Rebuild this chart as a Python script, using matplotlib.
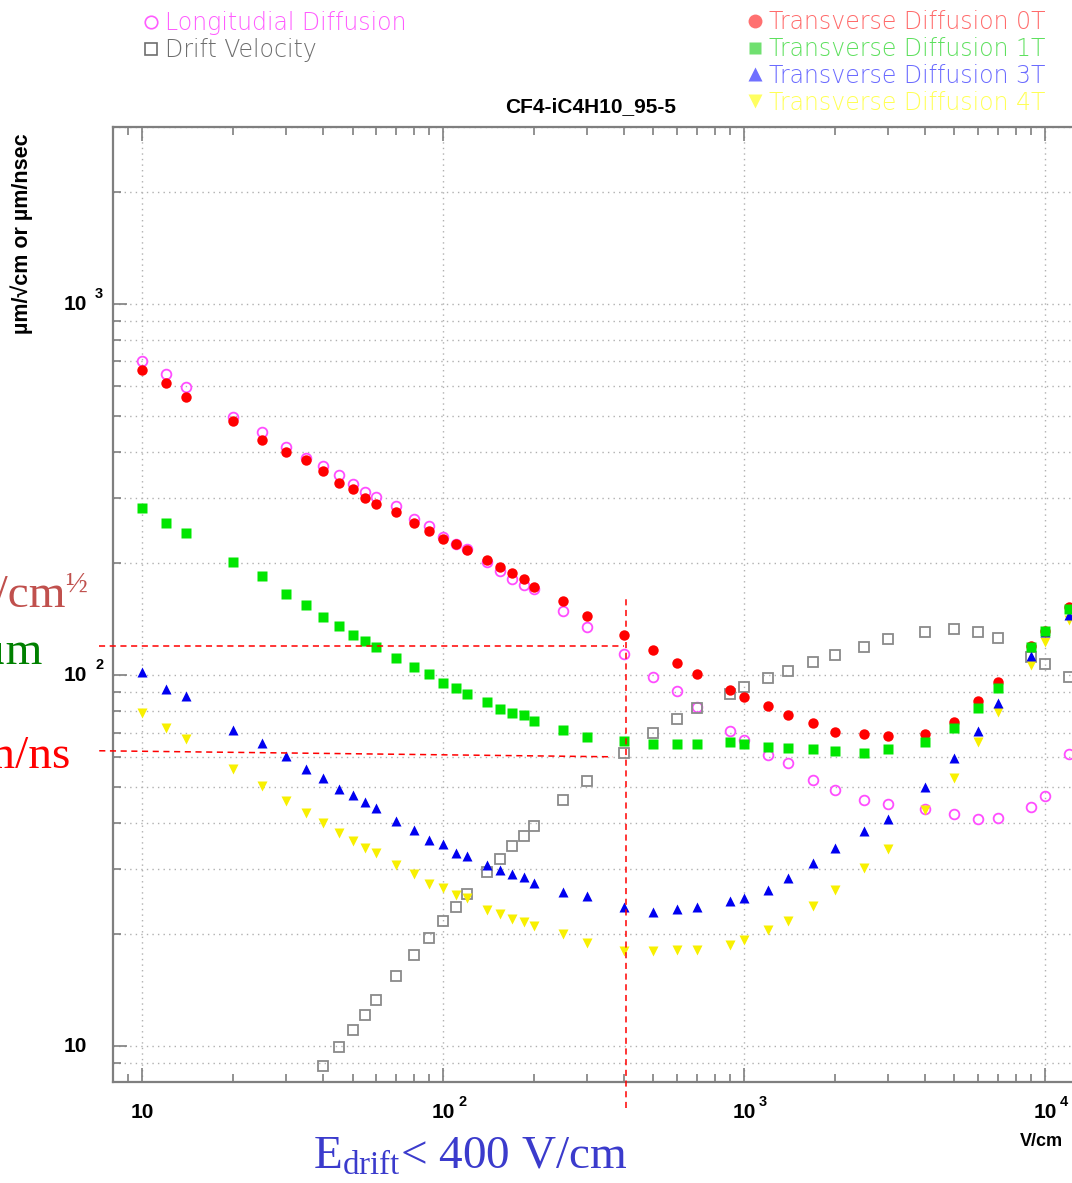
import matplotlib
matplotlib.use("Agg")
import matplotlib.pyplot as plt
from matplotlib.lines import Line2D
from matplotlib.ticker import FixedLocator, LogLocator, NullFormatter
import matplotlib.transforms as mtransforms

plt.rcParams['mathtext.fontset'] = 'custom'
plt.rcParams['mathtext.rm'] = 'Liberation Serif'
plt.rcParams['mathtext.it'] = 'Liberation Serif:italic'

# drift field (V/cm)
efield = [10, 12, 14, 20, 25, 30, 35, 40, 45, 50, 55, 60, 70, 80, 90, 100, 110, 120,
          140, 155, 170, 185, 200, 250, 300, 400, 500, 600, 700, 900, 1000, 1200, 1400,
          1700, 2000, 2500, 3000, 4000, 5000, 6000, 7000, 9000, 10000, 12000]
# drift velocity only shows up from 40 V/cm
efield_drift = efield[7:]

long_diff = [703, 649, 598, 497, 451, 413, 384, 365, 346, 328, 312, 302, 285, 264, 252,
             235, 226, 218, 202, 191, 181, 175, 171, 149, 135, 114, 99, 90.5, 82.2, 70.8,
             66.9, 60.7, 57.9, 52.2, 48.9, 46.1, 45, 43.5, 42.3, 41, 41.2, 44, 47.3, 61.2]
drift_vel = [8.82, 9.95, 11.06, 12.1, 13.27, 15.4, 17.6, 19.6, 21.7, 23.7, 25.7, 29.4, 32,
             34.6, 36.9, 39.3, 46.1, 51.7, 61.8, 69.7, 76.2, 81.4, 88.9, 92.7, 98, 102.7,
             108.6, 113.2, 119.2, 124.7, 130.7, 132.9, 130.7, 126, 112, 106.9, 99]
trans_0t = [663, 611, 562, 485, 431, 399, 380, 354, 330, 318, 300, 289, 275, 257, 244,
            232, 225, 217, 204, 195, 188, 181, 173, 158, 144, 128, 117, 108, 100.4, 91.2,
            87.5, 82.7, 78, 74.4, 70.4, 69.2, 68.6, 69.3, 74.9, 85.3, 96, 119.7, 131.5, 152.6]
trans_1t = [281.7, 257.6, 241.9, 201.8, 184.4, 165.6, 154.3, 143.1, 135.5, 128.3, 123.7,
            118.7, 111.3, 104.9, 100.4, 95.3, 92.5, 88.8, 84.6, 81, 79.2, 78, 75.3, 71.1,
            68.2, 66.5, 65.3, 65.2, 65.1, 65.8, 65.3, 64.1, 63.4, 63.1, 62.5, 61.6, 63.1,
            65.9, 71.9, 81.7, 92, 118.7, 131.3, 150.3]
trans_3t = [102, 91.7, 88, 71.1, 65.5, 60.5, 55.8, 52.8, 49.3, 47.6, 45.4, 43.7, 40.5,
            38.3, 36, 35.1, 33.2, 32.5, 30.7, 29.9, 29, 28.5, 27.5, 26, 25.3, 23.7, 23,
            23.4, 23.7, 24.6, 25, 26.4, 28.4, 31.2, 34.1, 38, 41, 49.8, 59.6, 70.8, 83.9,
            112.7, 130.6, 144.8]
trans_4t = [78.9, 71.9, 67.1, 55.8, 50.3, 45.8, 42.6, 39.8, 37.5, 35.6, 34.2, 33.2, 30.8,
            29.1, 27.4, 26.6, 25.6, 25, 23.3, 22.7, 22, 21.6, 21.1, 20, 19, 18, 18, 18.1,
            18.1, 18.7, 19.3, 20.5, 21.7, 23.8, 26.4, 30.2, 34, 43.3, 52.7, 65.8, 79.3,
            106.4, 123, 140.5]

x_ticks = [10, 100, 1000, 10000]
x_exps = ['', '2', '3', '4']
y_ticks = [10, 100, 1000]
y_exps = ['', '2', '3']

# overlay guides (slide annotations)
guide_x = [7.2, 398]
guide_sigma = [120, 120]
guide_vd = [62.5, 60.2]
cut_x = 405
cut_y = [6.8, 161]

W, H = 1072, 1183
fig = plt.figure(figsize=(W / 100, H / 100), dpi=100)
ax = fig.add_axes([113 / W, 1 - 1082 / H, 985 / W, 955 / H])
ax.set_xscale('log')
ax.set_yscale('log')
ax.set_xlim(8, 15000)
ax.set_ylim(8, 3000)

ms = 7
ax.plot(efield, long_diff, 'o', ms=ms, mfc='none', mec='#ff4dff', mew=1.3, zorder=3)
ax.plot(efield_drift, drift_vel, 's', ms=7.5, mfc='none', mec='#8a8a8a', mew=1.3, zorder=3.1)
ax.plot(efield, trans_4t, 'v', ms=ms, color='#f8f000', mec='none', zorder=3.2)
ax.plot(efield, trans_3t, '^', ms=ms, color='#0000f0', mec='none', zorder=3.3)
ax.plot(efield, trans_0t, 'o', ms=7.5, color='#ff0000', mec='none', zorder=3.4)
ax.plot(efield, trans_1t, 's', ms=6.8, color='#00e600', mec='none', zorder=3.5)

# grid: dotted, horizontal at every decade step, vertical only at decades
ax.xaxis.set_major_locator(FixedLocator(x_ticks))
ax.xaxis.set_minor_locator(LogLocator(base=10, subs=range(2, 10), numticks=20))
ax.yaxis.set_major_locator(FixedLocator(y_ticks))
ax.yaxis.set_minor_locator(LogLocator(base=10, subs=range(2, 10), numticks=20))
ax.xaxis.set_major_formatter(NullFormatter())
ax.xaxis.set_minor_formatter(NullFormatter())
ax.yaxis.set_major_formatter(NullFormatter())
ax.yaxis.set_minor_formatter(NullFormatter())
ax.grid(which='major', axis='x', color='#b0b0b0', ls=(0, (1, 3)), lw=1)
ax.grid(which='both', axis='y', color='#b0b0b0', ls=(0, (1, 3)), lw=1)
ax.set_axisbelow(True)

ax.tick_params(which='both', direction='in', top=True, right=True, color='#7f7f7f', width=1.2)
ax.tick_params(which='major', length=10)
ax.tick_params(which='minor', length=5.5)
for s in ax.spines.values():
    s.set_color('#7f7f7f')
    s.set_linewidth(1.6)

# tick labels written as "10" + superscript, like ROOT does
bold = dict(family='Liberation Sans', weight='bold', color='black')
xtrans = mtransforms.blended_transform_factory(ax.transData, ax.transAxes)
for v, e in zip(x_ticks, x_exps):
    ax.annotate('10', xy=(v, 0), xycoords=xtrans, xytext=(0, -31), textcoords='offset pixels',
                ha='center', va='center', fontsize=15, **bold)
    if e:
        ax.annotate(e, xy=(v, 0), xycoords=xtrans, xytext=(15, -20), textcoords='offset pixels',
                    ha='left', va='center', fontsize=10.5, **bold)
ytrans = mtransforms.blended_transform_factory(ax.transAxes, ax.transData)
for v, e in zip(y_ticks, y_exps):
    ax.annotate('10', xy=(0, v), xycoords=ytrans, xytext=(-26, 0), textcoords='offset pixels',
                ha='right', va='center', fontsize=15, **bold)
    if e:
        ax.annotate(e, xy=(0, v), xycoords=ytrans, xytext=(-18, 10), textcoords='offset pixels',
                    ha='left', va='center', fontsize=10.5, **bold)

fig.text(1041 / W, 1 - 1141 / H, 'V/cm', ha='center', va='center', fontsize=13, **bold)
fig.text(22 / W, 1 - 234 / H, 'µm/√cm or µm/nsec', rotation=90, ha='center', va='center',
         fontsize=15.5, family=['Liberation Sans', 'DejaVu Sans'], weight='bold')
fig.text(591 / W, 1 - 107 / H, 'CF4-iC4H10_95-5', ha='center', va='center', fontsize=15, **bold)

# legends
leg_font = dict(family='DejaVu Sans', weight='light', size=17)
pale = ['#ff5cff', '#6e6e6e']
h1 = [Line2D([], [], ls='none', marker='o', ms=9, mfc='none', mec='#ff5cff', mew=1.2),
      Line2D([], [], ls='none', marker='s', ms=9, mfc='none', mec='#6e6e6e', mew=1.2)]
fig.legend(h1, ['Longitudial Diffusion', 'Drift Velocity'], loc='upper left',
           bbox_to_anchor=(143 / W, 1 - 11 / H), frameon=False, borderpad=0, borderaxespad=0,
           handlelength=0.66, handletextpad=0.28, labelspacing=0.12, labelcolor=pale,
           prop=leg_font)
tcol = ['#ff6b6b', '#5ee05e', '#6b6bff', '#ffff55']
h2 = [Line2D([], [], ls='none', marker='o', ms=10, color='#ff7070', mec='none'),
      Line2D([], [], ls='none', marker='s', ms=9, color='#70e070', mec='none'),
      Line2D([], [], ls='none', marker='^', ms=10, color='#7070ff', mec='none'),
      Line2D([], [], ls='none', marker='v', ms=10, color='#ffff60', mec='none')]
fig.legend(h2, ['Transverse Diffusion 0T', 'Transverse Diffusion 1T',
                'Transverse Diffusion 3T', 'Transverse Diffusion 4T'], loc='upper left',
           bbox_to_anchor=(747 / W, 1 - 10 / H), frameon=False, borderpad=0, borderaxespad=0,
           handlelength=0.66, handletextpad=0.28, labelspacing=0.12, labelcolor=tcol,
           prop=leg_font)

# red dashed guides from the slide
dash = dict(color='red', ls=(0, (4, 3)), lw=1.1, clip_on=False, zorder=5)
ax.plot(guide_x, guide_sigma, **dash)
ax.plot([guide_x[0], 366], guide_vd, **dash)
ax.plot([cut_x, cut_x], cut_y, **dash)

serif = dict(family='Liberation Serif', fontsize=34)
fig.text(65 / W, 1 - 607 / H, '130 μm/cm', ha='right', va='baseline', color='#c0504d', **serif)
fig.text(65 / W, 1 - 592 / H, '½', ha='left', va='baseline', color='#c0504d',
         family='Liberation Serif', fontsize=21)
fig.text(42 / W, 1 - 664 / H, '~120 μm', ha='right', va='baseline', color='#008000', **serif)
fig.text(70 / W, 1 - 768 / H, '62 μm/ns', ha='right', va='baseline', color='#ff0000', **serif)
fig.text(313 / W, 1 - 1169 / H, r'$\mathrm{E}_{\mathrm{drift}}$< 400 V/cm', ha='left',
         va='baseline', color='#3b3bcc', **serif)

fig.savefig('out.png', dpi=100)
